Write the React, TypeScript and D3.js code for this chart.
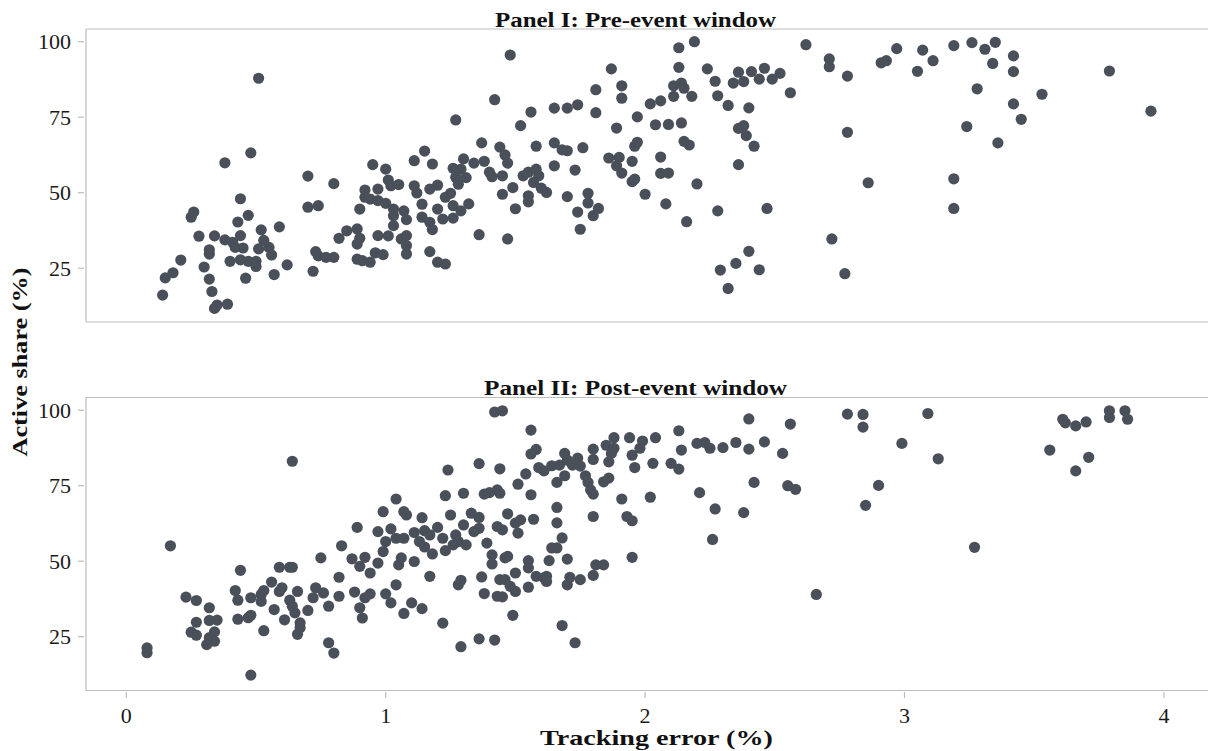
import React from "react";
import * as d3 from "d3";

const xTicks = [0, 1, 2, 3, 4];
const yTicks = [25, 50, 75, 100];
const panelTitles = ["Panel I: Pre-event window", "Panel II: Post-event window"];

const prePoints: [number, number][] = [
  [0.51,87.9],[0.48,63.2],[0.38,59.9],[0.70,55.5],[0.44,48.0],[0.26,43.6],[0.25,41.9],[0.47,42.5],[0.43,40.3],[0.70,45.2],[0.52,37.7],[0.59,38.7],[0.28,35.6],[0.34,35.7],[0.38,34.4],[0.41,33.6],[0.44,35.8],[0.42,31.9],[0.45,31.7],[0.53,34.2],[0.55,31.9],[0.51,31.4],[0.56,29.4],[0.32,31.1],[0.32,29.7],[0.21,27.7],[0.30,25.4],[0.40,27.3],[0.44,27.8],[0.47,27.3],[0.50,27.3],[0.50,25.6],[0.62,26.1],[0.57,22.9],[0.46,21.7],[0.72,24.0],[0.73,30.5],[0.18,23.5],[0.15,21.8],[0.14,16.1],[0.32,21.4],[0.33,17.3],[0.34,11.7],[0.35,12.8],[0.39,13.1],
  [1.48,95.6],[1.42,80.8],[1.56,76.7],[1.52,72.2],[1.27,74.1],[1.37,66.5],[1.44,65.1],[1.46,62.5],[1.47,59.8],[1.58,65.4],[1.15,63.8],[1.11,60.6],[1.18,59.5],[0.95,59.3],[1.00,57.8],[0.80,53.0],[0.74,45.7],[1.30,61.2],[1.34,59.8],[1.38,60.4],[1.26,58.1],[1.29,57.8],[1.27,55.1],[1.31,55.0],[1.28,52.8],[1.40,56.8],[1.41,55.3],[1.45,55.6],[1.53,55.6],[1.55,56.8],[1.58,57.8],[1.59,55.6],[1.57,53.4],[1.60,51.5],[1.55,49.0],[1.55,47.0],[1.49,51.7],[1.45,49.5],[1.50,44.7],[1.36,36.1],[1.47,34.7],[1.01,54.2],[1.05,52.7],[1.02,52.3],[0.97,51.2],[0.92,50.9],[0.92,48.5],[0.94,47.9],[0.97,47.4],[1.00,46.5],[0.90,44.6],[1.03,44.6],[1.03,42.4],[1.07,44.0],[1.08,41.1],[1.03,39.1],[1.11,52.3],[1.12,49.9],[1.17,51.2],[1.20,52.5],[1.14,46.2],[1.20,44.6],[1.23,48.5],[1.25,49.8],[1.22,41.3],[1.26,41.6],[1.26,45.7],[1.29,44.0],[1.32,46.3],[1.14,41.9],[1.17,40.2],[1.18,37.8],[0.97,35.8],[1.01,35.7],[1.06,34.7],[1.08,35.8],[1.08,32.5],[1.08,29.7],[1.17,30.5],[1.20,27.0],[1.23,26.4],[0.82,34.9],[0.85,37.4],[0.89,38.0],[0.90,34.9],[0.89,33.0],[0.74,29.1],[0.77,28.6],[0.80,28.6],[0.89,28.0],[0.91,27.5],[0.94,27.0],[0.96,30.1],[0.99,29.5],
  [2.19,100],[2.13,98.0],[2.13,91.5],[1.87,91.0],[2.24,91.0],[2.27,86.9],[1.91,85.4],[1.91,81.3],[1.81,84.1],[2.11,85.4],[2.14,86.3],[2.15,84.6],[2.11,81.9],[2.18,81.9],[2.06,80.4],[2.02,79.4],[2.28,82.1],[2.32,78.9],[2.36,89.9],[2.34,86.3],[2.38,86.8],[2.41,90.1],[2.46,91.2],[2.44,87.6],[2.49,87.6],[2.40,78.1],[1.65,78.0],[1.70,78.0],[1.74,79.1],[1.81,76.5],[1.97,75.1],[1.89,71.4],[2.04,72.5],[2.09,72.6],[2.14,73.1],[2.36,71.3],[2.38,72.2],[2.39,68.9],[2.42,65.4],[2.15,67.0],[2.17,65.8],[1.65,66.5],[1.68,64.2],[1.70,63.9],[1.76,64.9],[1.65,58.9],[1.73,57.5],[1.86,61.5],[1.90,61.7],[1.89,58.9],[1.91,56.5],[1.95,60.4],[1.96,65.4],[1.97,66.7],[1.95,53.7],[1.96,54.5],[2.06,61.8],[2.06,56.4],[2.09,56.5],[2.00,49.5],[2.08,46.3],[2.20,52.9],[2.36,59.3],[2.47,44.8],[2.28,44.0],[1.62,50.1],[1.70,48.7],[1.78,49.8],[1.78,46.6],[1.82,44.8],[1.80,42.4],[1.74,43.6],[1.75,37.9],[2.16,40.4],[2.40,30.6],[2.35,26.6],[2.29,24.4],[2.44,24.5],[2.32,18.3],
  [2.62,99.0],[2.52,89.5],[2.56,83.1],[2.71,94.3],[2.71,91.7],[2.78,88.6],[2.78,70.0],[2.86,53.3],[2.72,34.7],[2.77,23.2],[2.91,93.0],[2.93,93.7],[2.97,97.7],[3.05,90.2],[3.07,97.2],[3.11,93.7],[3.19,98.7],[3.26,99.7],[3.31,97.5],[3.35,99.8],[3.34,92.8],[3.28,84.4],[3.24,71.9],[3.36,66.5],[3.19,54.6],[3.19,44.8],
  [3.42,95.3],[3.42,90.1],[3.79,90.3],[3.53,82.6],[3.42,79.4],[3.45,74.3],[3.95,77.0],
];

const postPoints: [number, number][] = [
  [0.64,83.1],[0.17,55.1],[0.44,47.0],[0.59,48.0],[0.63,48.0],[0.64,48.0],[0.56,43.1],[0.59,40.0],[0.60,41.2],[0.66,40.0],[0.73,41.2],[0.72,37.9],[0.63,37.1],[0.64,35.1],[0.65,32.9],[0.70,33.7],[0.57,34.0],[0.61,30.6],[0.67,29.6],[0.67,28.0],[0.66,25.8],[0.42,40.3],[0.43,37.1],[0.48,37.9],[0.52,39.0],[0.53,40.3],[0.52,36.7],[0.43,30.8],[0.47,31.3],[0.48,32.1],[0.53,27.0],[0.23,38.1],[0.27,37.0],[0.32,34.6],[0.27,29.8],[0.32,30.4],[0.35,30.5],[0.25,26.5],[0.27,25.5],[0.34,26.6],[0.32,24.7],[0.34,23.5],[0.31,22.4],[0.08,21.3],[0.08,19.7],[0.48,12.3],
  [1.42,99.4],[1.45,99.8],[1.56,93.4],[1.58,87.0],[1.56,85.5],[1.59,81.0],[1.61,79.9],[1.54,78.9],[1.51,75.5],[1.56,72.0],[1.36,82.3],[1.44,80.6],[1.24,80.2],[1.23,71.7],[1.30,72.5],[1.38,72.2],[1.40,72.7],[1.43,73.6],[1.44,72.5],[1.04,70.6],[0.99,66.4],[1.07,66.4],[1.08,65.3],[1.14,64.4],[1.25,65.3],[1.33,65.9],[1.36,64.5],[1.47,65.7],[1.57,63.9],[0.89,61.2],[0.97,59.8],[1.02,60.7],[1.00,56.5],[1.04,57.6],[1.07,57.6],[1.11,59.5],[1.15,60.1],[1.20,61.2],[1.17,58.7],[1.22,57.6],[1.13,56.5],[1.15,54.7],[1.27,58.7],[1.30,62.0],[1.28,56.5],[1.31,55.4],[1.26,55.4],[1.34,59.8],[1.36,60.9],[1.43,61.5],[1.45,60.4],[1.50,62.6],[1.52,63.7],[1.51,59.3],[1.39,56.0],[1.41,52.1],[1.41,49.1],[1.46,51.1],[1.47,51.6],[1.55,50.2],[1.55,47.8],[1.58,45.0],[1.61,44.5],[1.50,46.1],[1.44,43.9],[1.46,43.9],[1.48,41.7],[1.50,40.0],[1.55,41.4],[1.43,38.4],[1.45,38.2],[1.38,39.3],[1.37,44.8],[1.29,43.7],[1.28,42.2],[1.17,45.0],[1.18,52.4],[1.23,53.5],[0.99,53.2],[0.97,49.4],[1.05,48.8],[1.06,51.1],[1.11,49.9],[0.87,50.8],[0.92,51.3],[0.90,48.3],[0.94,46.1],[0.83,55.1],[0.75,51.1],[0.82,44.7],[0.76,39.5],[0.78,35.1],[0.82,38.4],[0.88,39.8],[0.92,37.9],[0.94,39.2],[0.90,34.6],[0.91,31.2],[1.00,39.2],[1.02,36.2],[1.04,42.2],[1.07,32.7],[1.10,36.2],[1.14,34.3],[1.22,29.5],[0.78,23.0],[0.80,19.6],[1.29,21.7],[1.36,24.3],[1.42,23.9],[1.49,32.1],
  [2.40,97.1],[2.13,93.2],[1.88,90.9],[1.94,90.9],[2.04,90.9],[1.99,89.8],[1.85,88.4],[1.88,87.4],[1.98,87.4],[1.95,85.1],[1.87,85.7],[1.86,82.9],[1.80,87.1],[1.80,83.7],[1.69,85.7],[1.70,83.5],[1.74,84.1],[1.72,81.8],[1.75,81.5],[1.64,81.6],[1.67,81.8],[1.69,78.3],[1.66,76.1],[1.77,78.3],[1.78,76.1],[1.79,73.6],[1.80,72.2],[1.84,76.3],[1.86,77.5],[1.96,81.0],[2.03,82.4],[2.10,82.4],[2.13,80.5],[2.14,86.8],[2.20,89.0],[2.23,89.3],[2.25,87.4],[2.30,87.6],[2.35,89.3],[2.40,87.1],[2.46,89.5],[2.42,76.1],[2.21,72.7],[2.27,67.3],[2.38,66.1],[2.26,57.2],[2.02,71.2],[1.91,70.6],[1.80,64.8],[1.93,64.8],[1.95,63.4],[1.66,67.8],[1.66,62.7],[1.68,57.7],[1.64,54.4],[1.66,54.4],[1.63,50.2],[1.70,50.7],[1.95,51.3],[1.81,48.8],[1.84,48.8],[1.80,45.3],[1.62,45.0],[1.62,43.3],[1.71,44.7],[1.75,43.9],[1.70,42.2],[1.68,28.7],[1.73,23.0],
  [2.78,98.7],[2.84,98.6],[2.84,94.4],[3.09,98.9],[2.56,95.4],[2.53,85.7],[2.99,89.0],[3.13,83.9],[2.55,75.0],[2.58,73.8],[2.90,75.1],[2.85,68.5],[3.27,54.6],[2.66,39.0],
  [3.61,97.0],[3.62,95.8],[3.66,94.8],[3.70,96.1],[3.79,99.8],[3.79,97.6],[3.85,99.8],[3.86,97.0],[3.56,86.8],[3.71,84.4],[3.66,79.9],
];

const W = 1208;
const H = 751;
const left = 86;
const right = 1208;
const panelTops = [29, 397.5];
const panelH = 293;
const FONT = "'Liberation Serif', 'DejaVu Serif', serif";
const DOT = "#4a5059";
const FRAME = "#bdbdbd";

export default function App() {
  const x = d3.scaleLinear().domain([-0.1554, 4.17]).range([left, right]);
  const panels = [prePoints, postPoints];
  const titleCenter = 635.5;
  return (
    <svg width={W} height={H} style={{ position: "absolute", left: 0, top: 0, background: "#fff" }}>
      {panels.map((pts, i) => {
        const top = panelTops[i];
        const bottom = top + panelH;
        const y = d3.scaleLinear().domain([7.2, 104.2]).range([bottom, top]);
        return (
          <g key={i}>
            <line x1={left} x2={right} y1={top} y2={top} stroke={FRAME} strokeWidth={1.2} />
            <line x1={left} x2={right} y1={bottom} y2={bottom} stroke={FRAME} strokeWidth={1.2} />
            <line x1={left} x2={left} y1={top} y2={bottom} stroke={FRAME} strokeWidth={1.2} />
            {yTicks.map((t) => (
              <g key={t}>
                <line x1={78} x2={84} y1={y(t)} y2={y(t)} stroke={FRAME} strokeWidth={1.2} />
                <text x={71} y={y(t)} dy="0.34em" textAnchor="end" fontFamily={FONT} fontSize={22} fill="#1a1a1a">{t}</text>
              </g>
            ))}
            {pts.map((p, j) => (
              <circle key={j} cx={x(p[0])} cy={y(p[1])} r={5.6} fill={DOT} />
            ))}
            <text x={titleCenter} y={i === 0 ? 26.5 : 394.5} textAnchor="middle" fontFamily={FONT} fontWeight="bold" fontSize={20}
              textLength={i === 0 ? 281 : 303} lengthAdjust="spacingAndGlyphs" fill="#111">{panelTitles[i]}</text>
          </g>
        );
      })}
      {xTicks.map((t) => (
        <g key={t}>
          <line x1={x(t)} x2={x(t)} y1={692} y2={698} stroke={FRAME} strokeWidth={1.2} />
          <text x={x(t)} y={723} textAnchor="middle" fontFamily={FONT} fontSize={22} fill="#1a1a1a">{t}</text>
        </g>
      ))}
      <text x={656.5} y={745} textAnchor="middle" fontFamily={FONT} fontWeight="bold" fontSize={21}
        textLength={233} lengthAdjust="spacingAndGlyphs" fill="#111">Tracking error (%)</text>
      <text transform="translate(27,362) rotate(-90)" textAnchor="middle" fontFamily={FONT} fontWeight="bold" fontSize={21}
        textLength={189} lengthAdjust="spacingAndGlyphs" fill="#111">Active share (%)</text>
    </svg>
  );
}
